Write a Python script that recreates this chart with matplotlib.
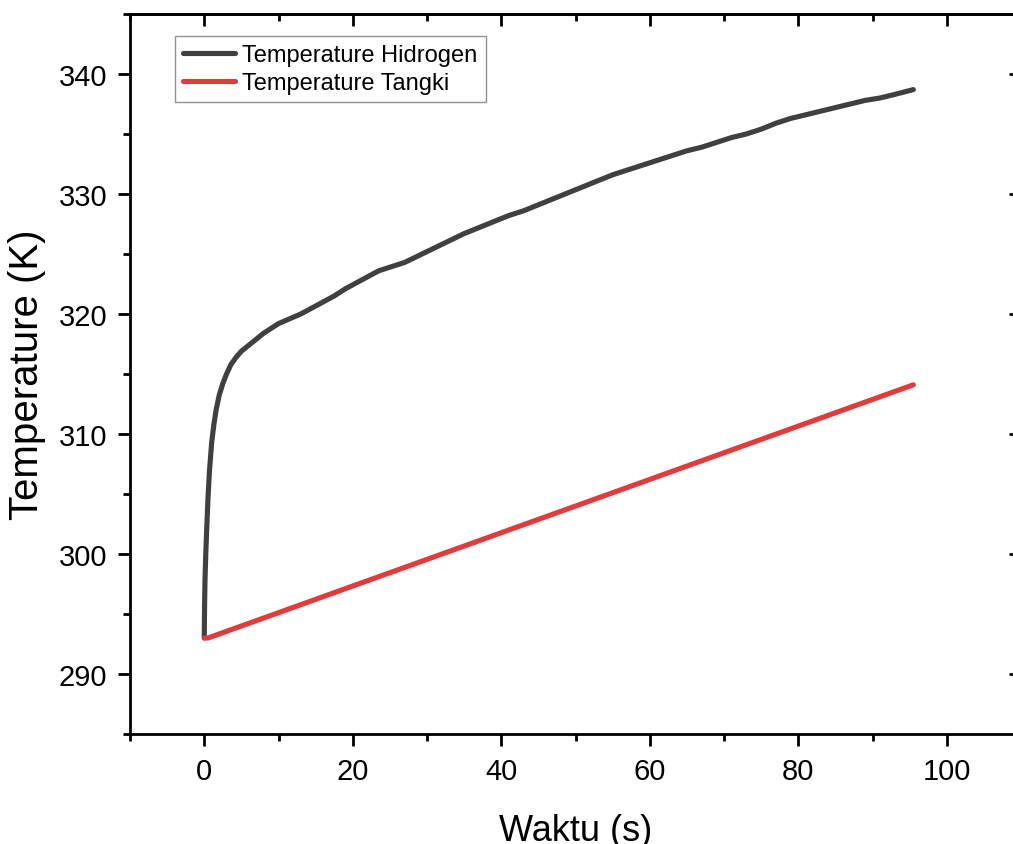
import matplotlib
matplotlib.use("Agg")
import matplotlib.pyplot as plt
from matplotlib.ticker import MultipleLocator

# --- data -------------------------------------------------------------------------------------
waktu_h2 = [0.0, 0.05, 0.1, 0.2, 0.3, 0.5, 0.7, 1.0, 1.3, 1.6, 2.0, 2.5, 3.0, 3.6, 4.3, 5.0,
            6.0, 7.0, 8.0, 9.0, 10.0, 11.5, 13.0, 14.5, 16.0, 17.5, 19.0, 20.5, 22.0, 23.5,
            25.0, 27.0, 29.0, 31.0, 33.0, 35.0, 37.0, 39.0, 41.0, 43.0, 45.0, 47.0, 49.0,
            51.0, 53.0, 55.0, 57.0, 59.0, 61.0, 63.0, 65.0, 67.0, 69.0, 71.0, 73.0, 75.0,
            77.0, 79.0, 81.0, 83.0, 85.0, 87.0, 89.0, 91.0, 93.0, 95.5]
temp_h2 = [293.0, 296.0, 297.8, 299.9, 301.6, 304.6, 306.9, 309.3, 310.8, 312.0, 313.2,
           314.2, 315.0, 315.8, 316.4, 316.9, 317.4, 317.9, 318.4, 318.8, 319.2, 319.6,
           320.0, 320.5, 321.0, 321.5, 322.1, 322.6, 323.1, 323.6, 323.9, 324.3, 324.9,
           325.5, 326.1, 326.7, 327.2, 327.7, 328.2, 328.6, 329.1, 329.6, 330.1, 330.6,
           331.1, 331.6, 332.0, 332.4, 332.8, 333.2, 333.6, 333.9, 334.3, 334.7, 335.0,
           335.4, 335.9, 336.3, 336.6, 336.9, 337.2, 337.5, 337.8, 338.0, 338.3, 338.7]

waktu_tangki = [0.0, 0.5, 95.5]
temp_tangki = [293.0, 293.0, 314.1]

label_h2 = "Temperature Hidrogen"
label_tangki = "Temperature Tangki"

plt.rcParams.update({
    "font.family": ["Liberation Sans", "DejaVu Sans"],
    "axes.linewidth": 2.0,
})

fig = plt.figure(figsize=(10.13, 8.45), dpi=100)
W, H = 1013.0, 845.0
ax = fig.add_axes([130 / W, 110 / H, (1021 - 130) / W, 720 / H])

ax.plot(waktu_h2, temp_h2, color="#404040", lw=3.7, solid_capstyle="round",
        solid_joinstyle="round", label=label_h2)
ax.plot(waktu_tangki, temp_tangki, color="#e23b3b", lw=3.7, solid_capstyle="round",
        label=label_tangki)

ax.set_xlim(-10, 110)
ax.set_ylim(285, 345)
ax.xaxis.set_major_locator(MultipleLocator(20))
ax.xaxis.set_minor_locator(MultipleLocator(10))
ax.yaxis.set_major_locator(MultipleLocator(10))
ax.yaxis.set_minor_locator(MultipleLocator(5))

ax.tick_params(which="both", direction="out", width=2.0, labelsize=21, pad=8,
               top=False, right=False)
ax.tick_params(which="major", length=8.5)
ax.tick_params(which="minor", length=5)

# mirrored ticks pointing inward on top/right (Origin style)
sec_x = ax.secondary_xaxis("top")
sec_x.xaxis.set_major_locator(MultipleLocator(20))
sec_x.xaxis.set_minor_locator(MultipleLocator(10))
sec_x.tick_params(which="both", direction="in", width=2.0, labeltop=False)
sec_x.tick_params(which="major", length=8.5)
sec_x.tick_params(which="minor", length=5)
sec_x.spines["top"].set_linewidth(2.0)
sec_y = ax.secondary_yaxis("right")
sec_y.yaxis.set_major_locator(MultipleLocator(10))
sec_y.yaxis.set_minor_locator(MultipleLocator(5))
sec_y.tick_params(which="both", direction="in", width=2.0, labelright=False)
sec_y.tick_params(which="major", length=8.5)
sec_y.tick_params(which="minor", length=5)

ax.set_xlabel("Waktu (s)", fontsize=26, labelpad=20)
ax.set_ylabel("Temperature (K)", fontsize=29, labelpad=9)

leg = ax.legend(loc="upper left", bbox_to_anchor=((175 - 130) / 891, (735 - 37) / 720),
                borderaxespad=0, fontsize=17, frameon=True, fancybox=False,
                edgecolor="#777777", handlelength=2.2, handletextpad=0.3,
                labelspacing=0.25, borderpad=0.35)
leg.get_frame().set_linewidth(1.0)

fig.savefig("out.png", dpi=100)
